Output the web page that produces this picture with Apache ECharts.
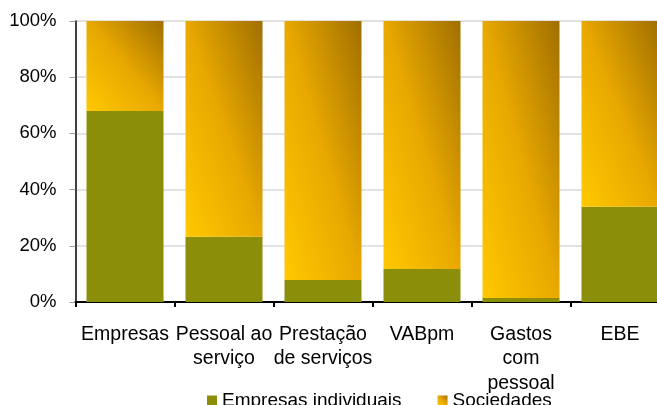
<!DOCTYPE html>
<html>
<head>
<meta charset="utf-8">
<script src="https://cdn.jsdelivr.net/npm/echarts@6/dist/echarts.min.js"></script>
<style>
html,body{margin:0;padding:0;background:#fff;}
#c{width:657px;height:405px;}
</style>
</head>
<body>
<div id="c"></div>
<script>
var categories = ['Empresas', 'Pessoal ao\nserviço', 'Prestação\nde serviços', 'VABpm', 'Gastos\ncom\npessoal', 'EBE'];
var empresasIndividuais = [68.0, 23.2, 7.8, 11.7, 1.4, 33.9];
var sociedades = [32.0, 76.8, 92.2, 88.3, 98.6, 66.1];
var yTicks = [0, 20, 40, 60, 80, 100];
var seriesNames = ['Empresas individuais', 'Sociedades'];

var GREEN = '#8B8E09';
var STOPS = [
  { offset: 0, color: '#FFC800' },
  { offset: 0.5, color: '#E8A800' },
  { offset: 1, color: '#A06F00' }
];
var PLOT_H = 281, BAR_W = 77;

function diagGradient(h, w) {
  var s = h * h + w * w;
  return new echarts.graphic.LinearGradient(0, 1, 2 * h * h / s, 1 - 2 * w * w / s, STOPS);
}

var font = 'Liberation Sans, Arial, sans-serif';
var chart = echarts.init(document.getElementById('c'), null, { renderer: 'canvas' });

chart.setOption({
  animation: false,
  backgroundColor: '#fff',
  grid: { left: 75.5, top: 21, width: 594, height: 281, containLabel: false, outerBoundsMode: 'none' },
  legend: {
    data: [
      { name: seriesNames[0], itemStyle: { color: GREEN } },
      { name: seriesNames[1], itemStyle: { color: new echarts.graphic.LinearGradient(0, 1, 1, 0, STOPS) } }
    ],
    left: 202,
    top: 386,
    itemWidth: 10,
    itemHeight: 10,
    itemGap: 36,
    icon: 'rect',
    textStyle: { fontFamily: font, fontSize: 19, color: '#000' }
  },
  xAxis: {
    type: 'category',
    data: categories,
    axisLine: { lineStyle: { color: '#000', width: 2 } },
    axisTick: { show: true, length: 5, lineStyle: { color: '#000', width: 2 } },
    axisLabel: {
      fontFamily: font, fontSize: 19.5, color: '#000',
      lineHeight: 24.5, margin: 20, interval: 0
    },
    splitLine: { show: false }
  },
  yAxis: {
    type: 'value',
    min: 0, max: 100, interval: 20,
    axisLine: { show: true, lineStyle: { color: '#000', width: 1.5 } },
    axisTick: { show: true, length: 6, lineStyle: { color: '#999' } },
    axisLabel: {
      fontFamily: font, fontSize: 18.5, color: '#000', margin: 19,
      formatter: function (v) { return yTicks.indexOf(v) >= 0 ? v + '%' : ''; }
    },
    splitLine: { show: true, lineStyle: { color: '#D9D9D9', width: 1.5 } }
  },
  series: [
    {
      name: seriesNames[0],
      type: 'bar',
      stack: 'total',
      barWidth: BAR_W,
      itemStyle: { color: GREEN },
      data: empresasIndividuais
    },
    {
      name: seriesNames[1],
      type: 'bar',
      stack: 'total',
      barWidth: BAR_W,
      itemStyle: { color: new echarts.graphic.LinearGradient(0, 1, 1, 0, STOPS) },
      data: sociedades.map(function (v) {
        return { value: v, itemStyle: { color: diagGradient(v / 100 * PLOT_H, BAR_W) } };
      })
    }
  ]
});
</script>
</body>
</html>
